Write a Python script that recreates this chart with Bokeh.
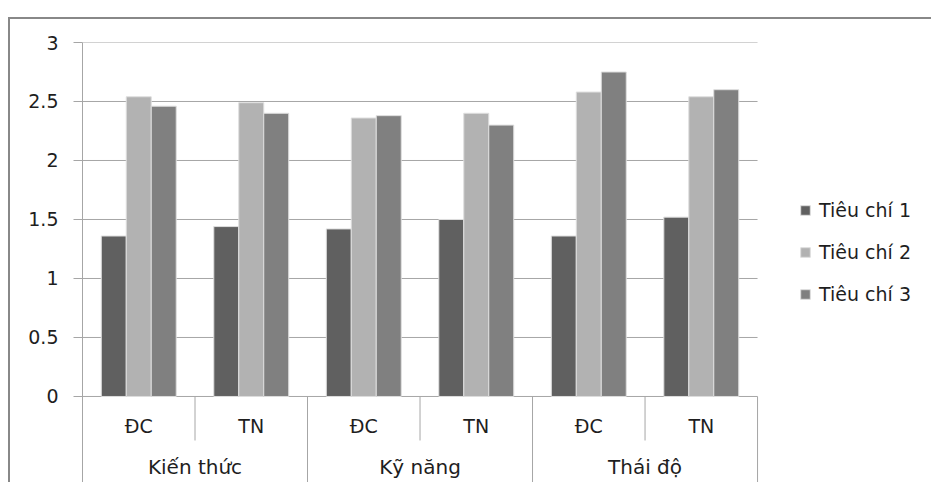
from bokeh.plotting import figure
from bokeh.models import Range1d, FixedTicker, Legend, LegendItem, ColumnDataSource
from bokeh.transform import dodge
from bokeh.core.properties import value
from bokeh.embed import file_html
from bokeh.resources import INLINE

# --- data -------------------------------------------------------------
groups = ["Kiến thức", "Kỹ năng", "Thái độ"]
classes = ["ĐC", "TN"]
series_names = ["Tiêu chí 1", "Tiêu chí 2", "Tiêu chí 3"]
tieu_chi_1 = [1.36, 1.44, 1.42, 1.50, 1.36, 1.52]
tieu_chi_2 = [2.54, 2.49, 2.36, 2.40, 2.58, 2.54]
tieu_chi_3 = [2.46, 2.40, 2.38, 2.30, 2.75, 2.60]
y_ticks = [0, 0.5, 1, 1.5, 2, 2.5, 3]

# --- styling ----------------------------------------------------------
FONT = "DejaVu Sans"
TEXT = "#1e1e1e"
bar_colors = ["#606060", "#b2b2b2", "#808080"]
line_gray = "#a6a6a6"

# one slot per (group, class) pair; slot k is centred on k + 0.5
n_cls = len(classes)
sub_labels = [c for _ in groups for c in classes]
n = len(sub_labels)
slot_x = [k + 0.5 for k in range(n)]
group_x = [g * n_cls + n_cls / 2 for g in range(len(groups))]

source = ColumnDataSource(dict(x=slot_x, t1=tieu_chi_1, t2=tieu_chi_2, t3=tieu_chi_3))

y_min = -0.746   # room below zero for the two rows of category labels
x_max = n + 1.564  # extra room on the right for the legend

p = figure(width=923, height=465, x_range=Range1d(0, x_max), y_range=Range1d(y_min, 3),
           output_backend="svg", toolbar_location=None, x_axis_location=None,
           min_border_left=72, min_border_right=0, min_border_top=23,
           min_border_bottom=0, background_fill_color="white",
           border_fill_color="white", outline_line_color=None)

# outer chart border (top and left edges; the rest runs off the page)
p.margin = (17, 0, 0, 8)
p.styles = {"border-top": "2px solid #888888", "border-left": "2px solid #888888"}

# y axis
ax = p.yaxis[0]
ax.ticker = FixedTicker(ticks=y_ticks)
ax.axis_line_color = line_gray
ax.major_tick_line_color = line_gray
ax.major_tick_out = 9
ax.major_tick_in = 0
ax.minor_tick_line_color = None
ax.major_label_standoff = 15
ax.major_label_text_font = FONT
ax.major_label_text_font_size = "19px"
ax.major_label_text_color = TEXT

p.xgrid.grid_line_color = None
p.ygrid.grid_line_color = None

# horizontal gridlines, only across the category slots
p.segment(x0=[0] * len(y_ticks), x1=[n] * len(y_ticks), y0=y_ticks, y1=y_ticks,
          line_color=line_gray, line_width=1)

# bars
bar_w = 0.222
renderers = []
for i, (col, color) in enumerate(zip(["t1", "t2", "t3"], bar_colors)):
    r = p.vbar(x=dodge("x", (i - 1) * bar_w), top=col, bottom=0,
               width=bar_w, source=source, fill_color=color,
               line_color="#dedede", line_width=1)
    renderers.append(r)

# category dividers below the zero line
sub_bounds = [k for k in range(1, n) if k % n_cls != 0]
grp_bounds = [k for k in range(0, n + 1) if k % n_cls == 0]
p.segment(x0=sub_bounds, x1=sub_bounds, y0=[0] * len(sub_bounds),
          y1=[-0.373] * len(sub_bounds), line_color=line_gray, line_width=1)
p.segment(x0=grp_bounds, x1=grp_bounds, y0=[0] * len(grp_bounds),
          y1=[y_min] * len(grp_bounds), line_color=line_gray, line_width=1)

# category labels
p.text(x=slot_x, y=[-0.246] * n, text=sub_labels,
       text_align="center", text_baseline="middle", text_font=value(FONT),
       text_font_size="19px", text_color=TEXT)
p.text(x=group_x, y=[-0.6] * len(groups), text=groups,
       text_align="center", text_baseline="middle", text_font=value(FONT),
       text_font_size="20px", text_color=TEXT)

# legend, to the right of the category slots
legend = Legend(items=[LegendItem(label=s, renderers=[r])
                       for s, r in zip(series_names, renderers)],
                location=(717, 179), orientation="vertical",
                glyph_width=12, glyph_height=12, label_height=20,
                spacing=20, padding=0, margin=0, label_standoff=8,
                label_text_font=FONT, label_text_font_size="19px",
                label_text_color=TEXT, border_line_color=None,
                background_fill_alpha=0)
p.add_layout(legend)

open("out.html", "w").write(file_html(p, INLINE))
